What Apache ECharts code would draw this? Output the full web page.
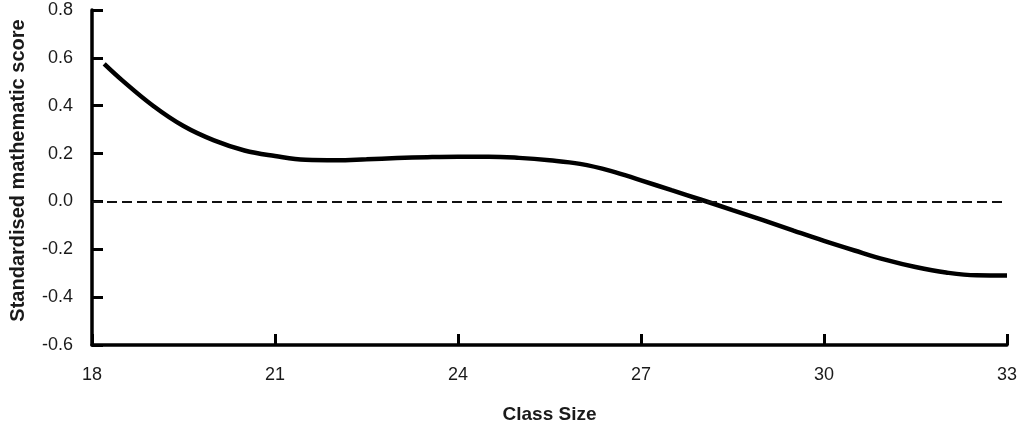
<!DOCTYPE html>
<html>
<head>
<meta charset="utf-8">
<script src="https://cdn.jsdelivr.net/npm/echarts@6/dist/echarts.min.js"></script>
<style>
html,body{margin:0;padding:0;background:#fff;}
#chart{width:1029px;height:429px;}
</style>
</head>
<body>
<div id="chart"></div>
<script>
const classSize = [18.2, 18.5, 19.0, 19.5, 20.0, 20.5, 21.0, 21.5, 22.0, 22.5, 23.0, 23.5, 24.0, 24.5, 25.0, 25.5, 26.0, 26.5, 27.0, 27.5, 28.0, 28.5, 29.0, 29.5, 30.0, 30.5, 31.0, 31.5, 32.0, 32.5, 33.0];
const score = [0.575, 0.505, 0.40, 0.315, 0.255, 0.213, 0.19, 0.174, 0.172, 0.176, 0.181, 0.185, 0.187, 0.187, 0.182, 0.172, 0.157, 0.128, 0.088, 0.047, 0.006, -0.036, -0.078, -0.122, -0.165, -0.205, -0.243, -0.274, -0.297, -0.309, -0.310];
const referenceLevel = 0;
const xTitle = 'Class Size';
const yTitle = 'Standardised mathematic score';

const chart = echarts.init(document.getElementById('chart'), null, {renderer: 'canvas'});
const fontFam = 'Liberation Sans, Arial, sans-serif';
chart.setOption({
  animation: false,
  backgroundColor: '#fff',
  grid: {left: 91, right: 22, top: 10, bottom: 78, containLabel: false},
  xAxis: {
    type: 'value', min: 18, max: 33, interval: 3,
    name: xTitle, nameLocation: 'middle', nameGap: 60,
    nameTextStyle: {fontFamily: fontFam, fontSize: 19, fontWeight: 'bold', color: '#1a1a1a'},
    axisLine: {onZero: false, lineStyle: {color: '#000', width: 3.5}},
    axisTick: {inside: true, length: 11, lineStyle: {color: '#000', width: 3}},
    axisLabel: {fontFamily: fontFam, fontSize: 18, color: '#1a1a1a', margin: 21},
    splitLine: {show: false}
  },
  yAxis: {
    type: 'value', min: -0.6, max: 0.8, interval: 0.2,
    name: yTitle, nameLocation: 'middle', nameGap: 64, nameRotate: 90,
    nameTextStyle: {fontFamily: fontFam, fontSize: 20, fontWeight: 'bold', color: '#1a1a1a', padding: [0, 0, 0, 14]},
    axisLine: {show: true, onZero: false, lineStyle: {color: '#000', width: 3.5}},
    axisTick: {show: true, inside: true, length: 11, lineStyle: {color: '#000', width: 3}},
    axisLabel: {fontFamily: fontFam, fontSize: 18, color: '#1a1a1a', margin: 19,
      formatter: v => v.toFixed(1)},
    splitLine: {show: false}
  },
  series: [{
    type: 'line',
    data: classSize.map((x, i) => [x, score[i]]),
    smooth: 0.4,
    symbol: 'none',
    lineStyle: {color: '#000', width: 4.5},
    markLine: {
      silent: true, symbol: 'none', label: {show: false},
      lineStyle: {color: '#111', width: 2, type: [10, 5]},
      data: [{yAxis: referenceLevel}]
    }
  }]
});
</script>
</body>
</html>
